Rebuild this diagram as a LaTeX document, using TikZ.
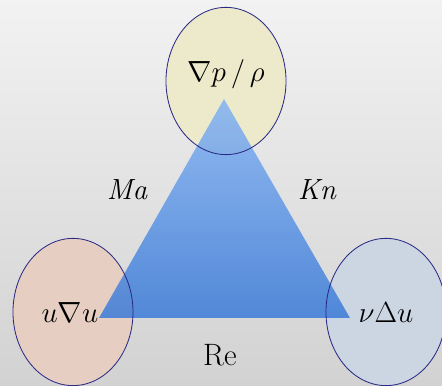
\documentclass[tikz,border=0pt]{standalone}
\usetikzlibrary{shapes.geometric}

\definecolor{bgtop}{HTML}{F2F2F2}
\definecolor{bgbot}{HTML}{D2D2D2}
\definecolor{rimblue}{HTML}{2B2A86}
\definecolor{pfill}{HTML}{ECEACB}
\definecolor{ufill}{HTML}{E6CFC2}
\definecolor{vfill}{HTML}{CCD5E2}
\definecolor{tritop}{HTML}{80B0F4}
\definecolor{tribot}{HTML}{3477D8}

\tikzset{
  term/.style={ellipse, minimum width=3cm, minimum height=3.68cm, inner sep=0pt},
  lbl/.style={font=\fontsize{22}{26}\selectfont}
}

\begin{document}
\begin{tikzpicture}[x=0.025cm, y=0.025cm]
    % 背景
    \useasboundingbox (0,0) rectangle (442,386);
    \clip (0,0) rectangle (442,386);
    \shade[top color=bgtop, bottom color=bgbot] (0,0) rectangle (442,386);

    % 三个圆 (填充)
    \node[term, fill=pfill] (pres) at (226,305) {};
    \node[term, fill=ufill] (conv) at (73,74) {};
    \node[term, fill=vfill] (visc) at (386,74) {};

    % 三角形
    \coordinate (apex) at (224,287);
    \coordinate (bl) at (99,68);
    \coordinate (br) at (350,68);
    \shade[top color=tritop, bottom color=tribot, opacity=0.82]
      (apex) -- (bl) -- (br) -- cycle;

    % 圆的边框
    \node[term, draw=rimblue, line width=0.6pt] at (pres) {};
    \node[term, draw=rimblue, line width=0.6pt] at (conv) {};
    \node[term, draw=rimblue, line width=0.6pt] at (visc) {};

    % 文字
    \node[lbl] (ptxt) at (226,312) {$\nabla p\,/\,\rho$};
    \node[lbl] (utxt) at (70,73) {$u\nabla u$};
    \node[lbl] (vtxt) at (386,73) {$\nu\Delta u$};
    \node[lbl] (ma) at (128,196) {$\mathit{Ma}$};
    \node[lbl] (kn) at (318,196) {$\mathit{Kn}$};
    \node[lbl] (re) at (220,31) {Re};
  \end{tikzpicture}
\end{document}
